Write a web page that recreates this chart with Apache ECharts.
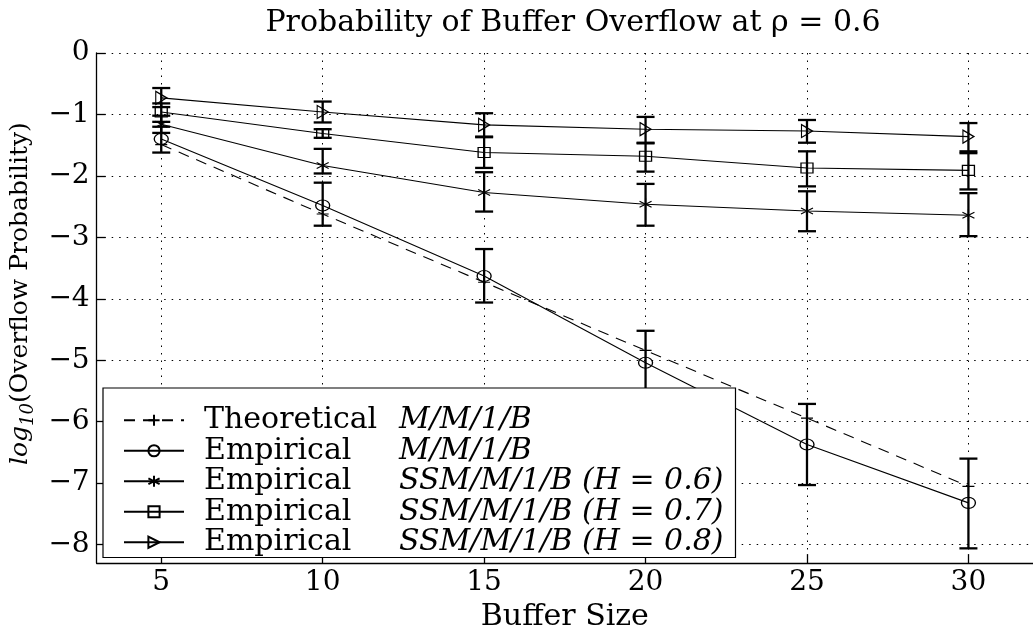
<!DOCTYPE html>
<html>
<head>
<meta charset="utf-8">
<script src="https://cdn.jsdelivr.net/npm/echarts@6/dist/echarts.min.js"></script>
<style>
  html, body { margin: 0; padding: 0; background: #fff; }
  #chart { width: 1033px; height: 637px; }
</style>
</head>
<body>
<div id="chart"></div>
<script>
// Buffer sizes on the x axis
const bufferSizes = [5, 10, 15, 20, 25, 30];
const xTicks = [5, 10, 15, 20, 25, 30];
const yTicks = [-8, -7, -6, -5, -4, -3, -2, -1, 0];

// log10 of overflow probability for each curve
const theoretical = [-1.49, -2.62, -3.73, -4.84, -5.94, -7.05];

const empMM1     = [-1.40, -2.48, -3.63, -5.04, -6.37, -7.32];
const empMM1Low  = [-1.62, -2.81, -4.06, -5.62, -7.03, -8.06];
const empMM1High = [-1.20, -2.11, -3.19, -4.52, -5.71, -6.60];

const ssmH06     = [-1.16, -1.83, -2.27, -2.46, -2.57, -2.64];
const ssmH06Low  = [-1.30, -1.96, -2.58, -2.81, -2.90, -2.98];
const ssmH06High = [-1.02, -1.56, -1.94, -2.13, -2.25, -2.28];

const ssmH07     = [-0.96, -1.31, -1.62, -1.68, -1.87, -1.91];
const ssmH07Low  = [-1.12, -1.38, -1.87, -1.93, -2.17, -2.22];
const ssmH07High = [-0.82, -1.24, -1.37, -1.47, -1.60, -1.63];

const ssmH08     = [-0.73, -0.96, -1.17, -1.24, -1.27, -1.36];
const ssmH08Low  = [-0.88, -1.13, -1.36, -1.46, -1.46, -1.60];
const ssmH08High = [-0.57, -0.79, -0.98, -1.04, -1.09, -1.14];

// Legend text: method kind and queue model
const legendKinds  = ['Theoretical', 'Empirical', 'Empirical', 'Empirical', 'Empirical'];
const legendModels = ['M/M/1/B', 'M/M/1/B', 'SSM/M/1/B (H = 0.6)', 'SSM/M/1/B (H = 0.7)', 'SSM/M/1/B (H = 0.8)'];
const seriesNames = legendKinds.map((k, i) => k + ' ' + legendModels[i]);

const FONT = "'DejaVu Serif', 'Liberation Serif', serif";

const SYM_PLUS = 'path://M0,-1L0,1M-1,0L1,0';
const SYM_STAR = 'path://M0,-1L0,1M-0.87,-0.5L0.87,0.5M-0.87,0.5L0.87,-0.5';
const SYM_TRI  = 'path://M0,0L1.6,1L0,2Z';

const pair = (ys) => bufferSizes.map((x, i) => [x, ys[i]]);
const bars = (lo, hi) => bufferSizes.map((x, i) => [x, lo[i], hi[i]]);

function lineSeries(name, ys, symbol, size, dashed) {
  return {
    name: name,
    type: 'line',
    data: pair(ys),
    symbol: symbol,
    symbolSize: size,
    showAllSymbol: true,
    z: 3,
    lineStyle: { color: '#000', width: 1.1, type: dashed ? [11, 8] : 'solid' },
    itemStyle: { color: 'rgba(255,255,255,0)', borderColor: '#000', borderWidth: 1.2 },
    emphasis: { disabled: true },
    animation: false
  };
}

// Vertical error bar with horizontal caps, placed through the axes' scales
function renderErrorBar(params, api) {
  const x = api.value(0);
  const pLo = api.coord([x, api.value(1)]);
  const pHi = api.coord([x, api.value(2)]);
  const half = 9;
  const style = { stroke: '#000', lineWidth: 2.3, fill: null };
  return {
    type: 'group',
    children: [
      { type: 'line', shape: { x1: pLo[0], y1: pLo[1], x2: pHi[0], y2: pHi[1] }, style: style },
      { type: 'line', shape: { x1: pLo[0] - half, y1: pLo[1], x2: pLo[0] + half, y2: pLo[1] }, style: style },
      { type: 'line', shape: { x1: pHi[0] - half, y1: pHi[1], x2: pHi[0] + half, y2: pHi[1] }, style: style }
    ]
  };
}

function errorSeries(lo, hi) {
  return {
    type: 'custom',
    renderItem: renderErrorBar,
    data: bars(lo, hi),
    encode: { x: 0, y: [1, 2] },
    z: 2,
    silent: true,
    animation: false
  };
}

const gridLine = { show: true, lineStyle: { color: '#000', width: 1, type: [1.5, 6] } };

const option = {
  backgroundColor: '#fff',
  animation: false,
  title: {
    text: 'Probability of Buffer Overflow at ρ = 0.6',
    left: 568,
    top: 3,
    textAlign: 'center',
    textStyle: { fontFamily: FONT, fontWeight: 'normal', fontSize: 30, color: '#000' }
  },
  grid: { left: 92, top: 53, width: 945, height: 525, containLabel: false },
  xAxis: {
    type: 'value',
    min: 3,
    max: 32,
    name: 'Buffer Size',
    nameLocation: 'middle',
    nameGap: 26,
    nameTextStyle: { fontFamily: FONT, fontSize: 30, color: '#000' },
    axisLine: { show: true, onZero: false, lineStyle: { color: '#000', width: 1.3 } },
    axisTick: { show: true, inside: true, length: 9, customValues: xTicks, lineStyle: { color: '#000', width: 1.3 } },
    axisLabel: { customValues: xTicks, margin: 6, fontFamily: FONT, fontSize: 28, color: '#000' },
    splitLine: Object.assign({ customValues: xTicks }, gridLine)
  },
  yAxis: {
    type: 'value',
    min: -8.3,
    max: 0,
    name: '{i|log}{s|10}{r|(Overflow Probability)}',
    nameLocation: 'middle',
    nameRotate: 90,
    nameGap: 46,
    nameTextStyle: {
      color: '#000',
      padding: [0, 0, 0, 29],
      rich: {
        i: { fontFamily: FONT, fontStyle: 'italic', fontSize: 25, lineHeight: 34, color: '#000' },
        s: { fontFamily: FONT, fontStyle: 'italic', fontSize: 18, lineHeight: 18, verticalAlign: 'bottom', color: '#000' },
        r: { fontFamily: FONT, fontSize: 25, lineHeight: 34, color: '#000' }
      }
    },
    axisLine: { show: true, onZero: false, lineStyle: { color: '#000', width: 1.3 } },
    axisTick: { show: true, inside: true, length: 9, customValues: yTicks, lineStyle: { color: '#000', width: 1.3 } },
    axisLabel: {
      customValues: yTicks, margin: 7, fontFamily: FONT, fontSize: 28, color: '#000',
      formatter: (v) => (v < 0 ? '\u2212' + Math.abs(v) : String(v))
    },
    splitLine: Object.assign({ customValues: yTicks }, gridLine)
  },
  legend: {
    data: seriesNames,
    orient: 'vertical',
    left: 103,
    top: 388,
    padding: [17, 12, 0, 20],
    itemGap: 0,
    itemWidth: 60,
    itemHeight: 14,
    backgroundColor: '#fff',
    borderColor: '#000',
    borderWidth: 1.2,
    borderRadius: 0,
    selectedMode: false,
    formatter: function (name) {
      const i = seriesNames.indexOf(name);
      return '{a|' + legendKinds[i] + '}{b|' + legendModels[i] + '}';
    },
    textStyle: {
      color: '#000',
      fontFamily: FONT,
      fontSize: 30,
      lineHeight: 30.5,
      padding: [0, 0, 0, 15],
      rich: {
        a: { fontFamily: FONT, fontSize: 30, lineHeight: 30.5, width: 195, color: '#000' },
        b: { fontFamily: FONT, fontStyle: 'italic', fontSize: 30, lineHeight: 30.5, color: '#000' }
      }
    }
  },
  series: [
    errorSeries(empMM1Low, empMM1High),
    errorSeries(ssmH06Low, ssmH06High),
    errorSeries(ssmH07Low, ssmH07High),
    errorSeries(ssmH08Low, ssmH08High),
    lineSeries(seriesNames[0], theoretical, SYM_PLUS, 12, true),
    lineSeries(seriesNames[1], empMM1, 'circle', [14, 11], false),
    lineSeries(seriesNames[2], ssmH06, SYM_STAR, 12, false),
    lineSeries(seriesNames[3], ssmH07, 'rect', [12, 10], false),
    lineSeries(seriesNames[4], ssmH08, SYM_TRI, [11, 13], false)
  ]
};

const chart = echarts.init(document.getElementById('chart'), null, { renderer: 'canvas' });
chart.setOption(option);
</script>
</body>
</html>
